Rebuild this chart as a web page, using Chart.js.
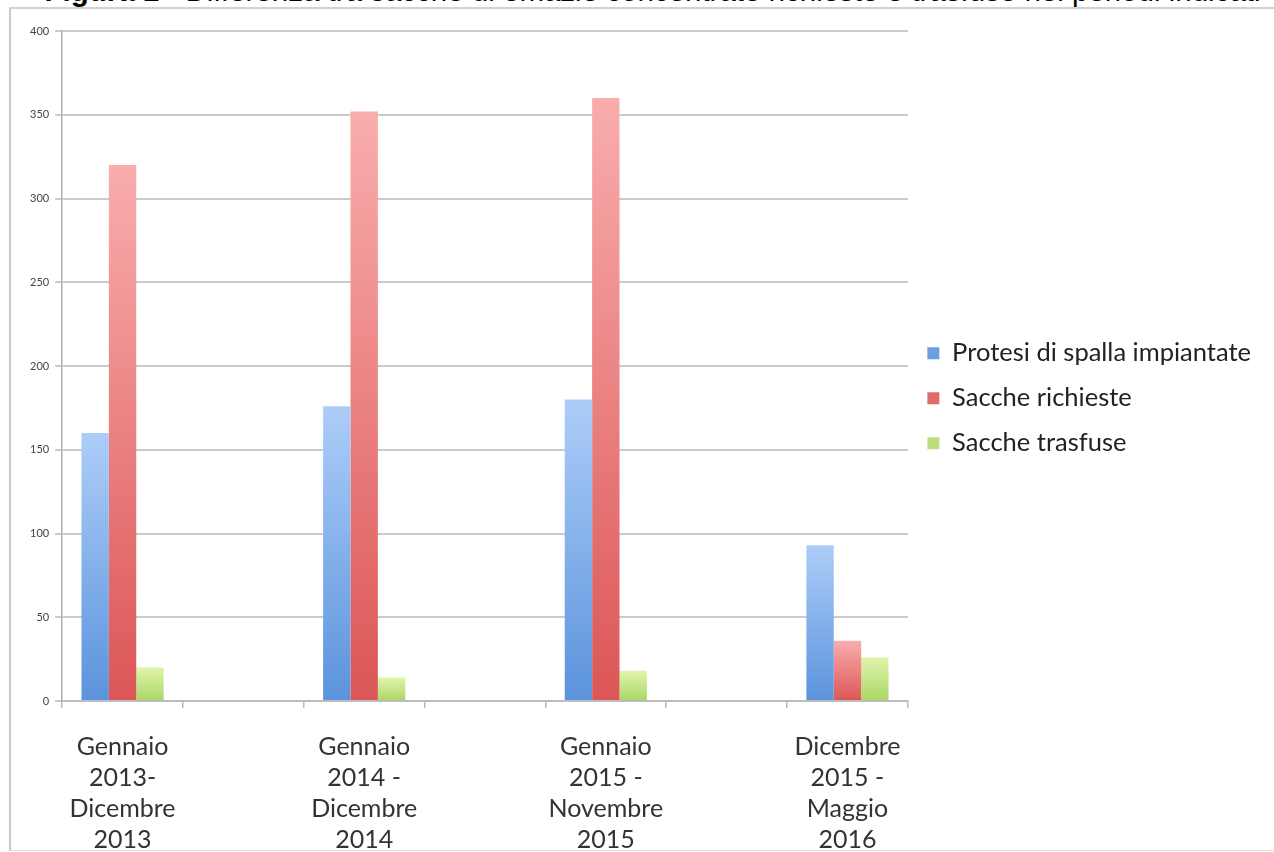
<!DOCTYPE html>
<html>
<head>
<meta charset="utf-8">
<script src="https://cdn.jsdelivr.net/npm/chart.js@4"></script>
<style>
  body { margin: 0; background: #fff; width: 1274px; height: 852px; overflow: hidden; position: relative; }
  #title { position: absolute; left: 40px; top: -26px; width: 1225px; text-align: center; white-space: nowrap;
           font: 29.5px "Liberation Sans", Arial, sans-serif; color: #000; }
  #frame { position: absolute; left: 9px; top: 7px; width: 1265px; height: 841px; z-index: 2; pointer-events: none;
           border-left: 2px solid #c8c8c8; border-top: 2px solid #d2d2d2; border-bottom: 1px solid #e2e2e2; }
  #wrap { position: absolute; left: 11px; top: 9px; width: 1263px; height: 870px; }
</style>
</head>
<body>
<div id="title"><b>Figura 1</b> - Differenza tra sacche di emazie concentrate richieste e trasfuse nei periodi indicati</div>
<div id="frame"></div>
<div id="wrap"><canvas id="chart"></canvas></div>
<script>
// periods (empty slots keep the gaps between groups)
const categories = [
  ['Gennaio', '2013-', 'Dicembre', '2013'], '',
  ['Gennaio', '2014 -', 'Dicembre', '2014'], '',
  ['Gennaio', '2015 -', 'Novembre', '2015'], '',
  ['Dicembre', '2015 -', 'Maggio', '2016']
];
const protesi = [160, null, 176, null, 180, null, 93];
const richieste = [320, null, 352, null, 360, null, 36];
const trasfuse = [20, null, 14, null, 18, null, 26];
const seriesNames = ['Protesi di spalla impiantate', 'Sacche richieste', 'Sacche trasfuse'];
const legendColors = ['#6a9fe0', '#e06a6a', '#bcdf7c'];

// light at the top of each bar, darker at the base
function grad(top, bottom) {
  return (c) => {
    const ch = c.chart;
    const y = ch.scales && ch.scales.y;
    if (!ch.chartArea || !y || c.raw == null) return bottom;
    const yt = y.getPixelForValue(c.raw);
    const yb = y.getPixelForValue(0);
    if (!isFinite(yt) || !isFinite(yb) || yt === yb) return bottom;
    const g = ch.ctx.createLinearGradient(0, yt, 0, yb);
    g.addColorStop(0, top);
    g.addColorStop(1, bottom);
    return g;
  };
}

const ctx = document.getElementById('chart').getContext('2d');
new Chart(ctx, {
  type: 'bar',
  data: {
    labels: categories,
    datasets: [
      { label: seriesNames[0], data: protesi, backgroundColor: grad('#adcdf8', '#5b93dc') },
      { label: seriesNames[1], data: richieste, backgroundColor: grad('#f9adad', '#dc5656') },
      { label: seriesNames[2], data: trasfuse, backgroundColor: grad('#e0f4ab', '#aad765') }
    ]
  },
  options: {
    responsive: true,
    maintainAspectRatio: false,
    animation: false,
    layout: { padding: { left: 13, right: 13, top: 22, bottom: 0 } },
    datasets: { bar: { categoryPercentage: 0.68, barPercentage: 1.0 } },
    plugins: {
      tooltip: { enabled: false },
      legend: {
        position: 'right',
        align: 'start',
        maxWidth: 362,
        title: { display: true, text: ' ', font: { size: 10 }, padding: { top: 278, bottom: 0 } },
        labels: {
          boxWidth: 12,
          boxHeight: 12,
          padding: 19.5,
          color: '#222',
          font: { family: 'Lato, "Open Sans", sans-serif', size: 25.5 },
          generateLabels: (chart) => {
            const items = Chart.defaults.plugins.legend.labels.generateLabels(chart);
            items.forEach((it, i) => {
              it.fillStyle = legendColors[i];
              it.strokeStyle = legendColors[i];
              it.lineWidth = 0;
            });
            return items;
          }
        }
      }
    },
    scales: {
      x: {
        offset: true,
        grid: { offset: true, drawOnChartArea: false, tickLength: 7, color: '#b8b8b8', lineWidth: 1.5 },
        border: { color: '#b8b8b8', width: 1.5 },
        ticks: {
          autoSkip: false, maxRotation: 0, padding: 23, color: '#333',
          font: { family: 'Lato, "Open Sans", sans-serif', size: 25, lineHeight: 1.25 }
        }
      },
      y: {
        min: 0, max: 400,
        grid: { color: '#cacaca', lineWidth: 2, tickLength: 7 },
        border: { color: '#b0b0b0', width: 1.5 },
        ticks: {
          stepSize: 50, padding: 6, color: '#444',
          font: { family: 'Lato, "Open Sans", sans-serif', size: 11 }
        }
      }
    }
  }
});
</script>
</body>
</html>
